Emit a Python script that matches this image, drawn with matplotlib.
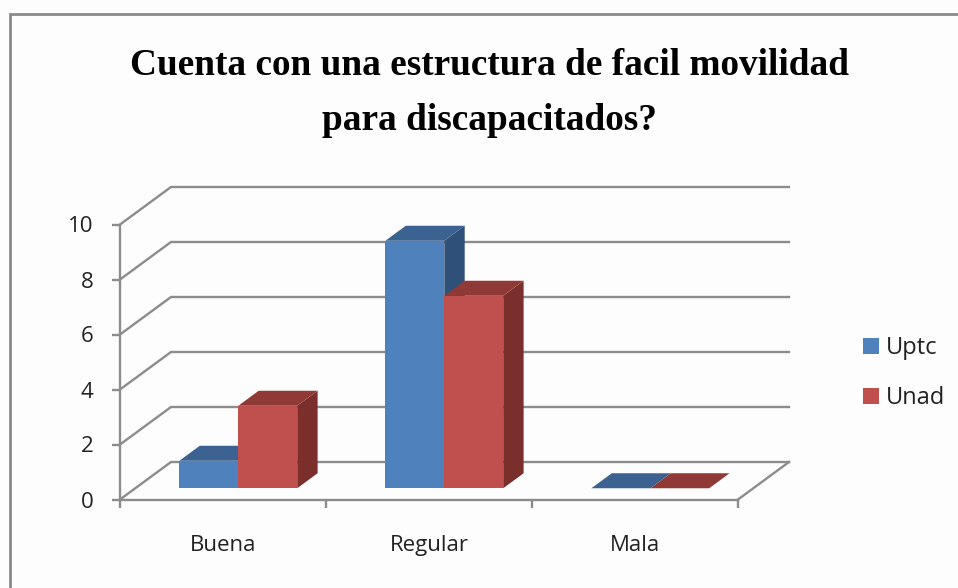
import matplotlib
matplotlib.use('Agg')
import matplotlib.pyplot as plt
from matplotlib.patches import Patch, Polygon, Rectangle

categories = ['Buena', 'Regular', 'Mala']
uptc = [1, 9, 0]
unad = [3, 7, 0]
y_ticks = [0, 2, 4, 6, 8, 10]

BLUE = ('#4f81bd', '#3b6291', '#2f5179')
RED = ('#c0504d', '#8f3a37', '#7a2f2d')
GRID = '#8c8c8c'
TEXT = '#222222'

W, H = 958, 588
# depth of the 3d box, in data units of the front wall
DEPTH_X = 51 / 206
DEPTH_Y = 37.5 / 27.5
BAR_W = 0.286
BAR_FRONT = 0.3
BAR_BACK = 0.7


def project(x, y, d):
    return (x + d * DEPTH_X, y + d * DEPTH_Y)


def draw_bar(ax, x, value, colors):
    x2 = x + BAR_W
    front = [project(x, 0, BAR_FRONT), project(x2, 0, BAR_FRONT),
             project(x2, value, BAR_FRONT), project(x, value, BAR_FRONT)]
    top = [project(x, value, BAR_FRONT), project(x2, value, BAR_FRONT),
           project(x2, value, BAR_BACK), project(x, value, BAR_BACK)]
    side = [project(x2, 0, BAR_FRONT), project(x2, 0, BAR_BACK),
            project(x2, value, BAR_BACK), project(x2, value, BAR_FRONT)]
    ax.add_patch(Polygon(side, fc=colors[2], ec='none', zorder=3, clip_on=False))
    ax.add_patch(Polygon(front, fc=colors[0], ec='none', zorder=3, clip_on=False))
    ax.add_patch(Polygon(top, fc=colors[1], ec='none', zorder=3, clip_on=False))


fig = plt.figure(figsize=(W / 100, H / 100), dpi=100, facecolor='#fdfdfd')
ax = fig.add_axes([120 / W, (H - 499.5) / H, 618 / W, 275 / H])
ax.set_xlim(0, 3)
ax.set_ylim(0, 10)
ax.patch.set_alpha(0)

# outer chart frame
fig.add_artist(Rectangle((9.5 / W, -0.1), 1.2, (H - 13.5) / H + 0.1, transform=fig.transFigure,
                         fc='none', ec='#8a8a8a', lw=2))

# walls
for v in y_ticks:
    ax.plot(*zip(project(0, v, 0), project(0, v, 1), project(3, v, 1)),
            color=GRID, lw=1.7, clip_on=False, zorder=1, solid_joinstyle='miter')
ax.plot(*zip(project(3, 0, 0), project(3, 0, 1)), color=GRID, lw=1.7, clip_on=False, zorder=1)

for i in range(len(categories)):
    left = i + (1 - 2 * BAR_W) / 2
    draw_bar(ax, left, uptc[i], BLUE)
    draw_bar(ax, left + BAR_W, unad[i], RED)

for s in ['top', 'right']:
    ax.spines[s].set_visible(False)
for s in ['left', 'bottom']:
    ax.spines[s].set_color(GRID)
    ax.spines[s].set_linewidth(1.7)

ax.set_yticks(y_ticks)
ax.set_xticks(range(4))
ax.set_xticklabels([])
ax.tick_params(axis='both', color=GRID, width=1.7, length=6, labelcolor=TEXT)
ax.tick_params(axis='y', labelsize=16, pad=13)
for lab in ax.get_yticklabels():
    lab.set_fontfamily('Open Sans')

for i, name in enumerate(categories):
    ax.text(i + 0.5, -1.87, name, ha='center', va='baseline', fontsize=16, family='Open Sans', color=TEXT)

handles = [Patch(fc=BLUE[0], label='Uptc'), Patch(fc=RED[0], label='Unad')]
fig.legend(handles=handles, loc='upper left', bbox_to_anchor=(863 / W, (H - 336) / H), frameon=False,
           borderaxespad=0, borderpad=0, handlelength=0.66, handleheight=0.66, handletextpad=0.3,
           labelspacing=1.1, prop={'family': 'Open Sans', 'size': 17}, labelcolor=TEXT)

title = 'Cuenta con una estructura de facil movilidad\npara discapacitados?'
fig.text(489 / W, (H - 93) / H, title, ha='center', va='center', family='Liberation Serif',
         weight='bold', fontsize=26.8, linespacing=1.74, color='black')

fig.savefig('out.png', dpi=100, facecolor=fig.get_facecolor())
